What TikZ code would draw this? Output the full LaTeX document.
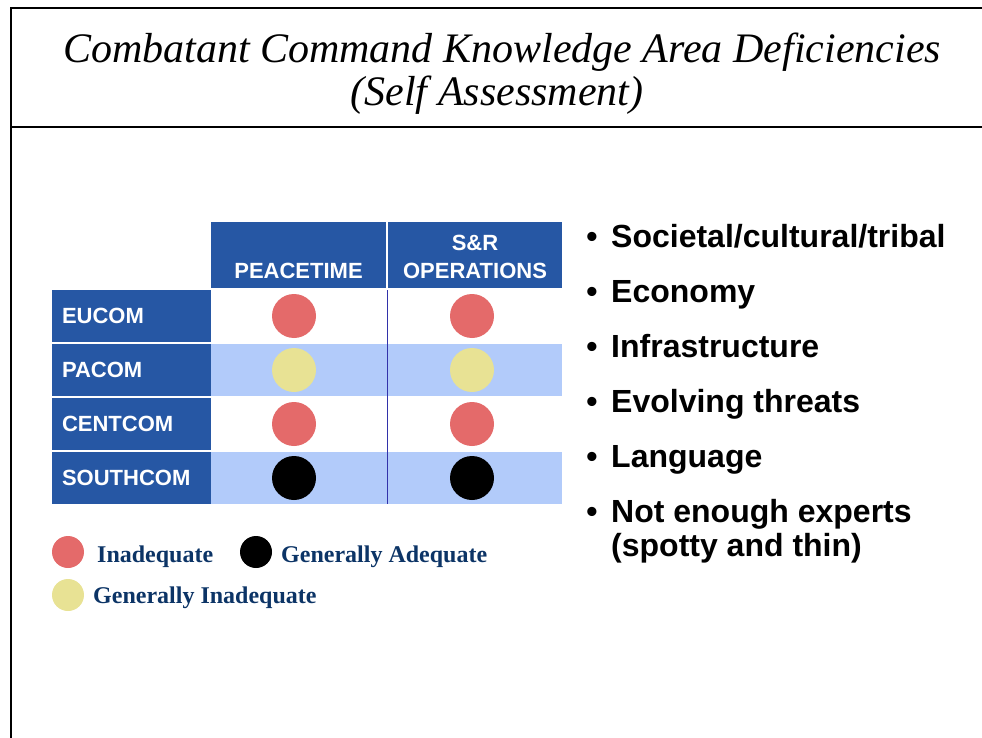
\documentclass[tikz,border=0pt]{standalone}
\usepackage{fontspec}
\setmainfont{Liberation Serif}
\setsansfont{Liberation Sans}
\usetikzlibrary{calc}

\definecolor{cmdblue}{RGB}{38,87,164}
\definecolor{rowblue}{RGB}{178,203,250}
\definecolor{dotred}{RGB}{228,106,106}
\definecolor{dotyel}{RGB}{232,226,148}
\definecolor{navy}{RGB}{12,52,102}
\definecolor{gridline}{RGB}{50,50,170}

\begin{document}
\begin{tikzpicture}[x=1pt,y=-1pt,
  hdrcell/.style={fill=cmdblue, minimum width=175, minimum height=66, inner sep=0pt, outer sep=0pt, anchor=north west},
  hdrtext/.style={text=white, font=\sffamily\bfseries\fontsize{22}{28}\selectfont, inner sep=0pt, anchor=base},
  rowcell/.style={fill=cmdblue, text=white, font=\sffamily\bfseries\fontsize{22}{28}\selectfont, minimum height=52, text width=148, inner xsep=10pt, inner ysep=0pt, outer sep=0pt, align=left, anchor=north west},
  band/.style={minimum width=351, minimum height=52, inner sep=0pt, outer sep=0pt, anchor=north west},
  dot/.style={circle, minimum size=44, inner sep=0pt},
  legdot/.style={circle, minimum size=32, inner sep=0pt},
  legtext/.style={text=navy, font=\bfseries\fontsize{24}{28}\selectfont, inner sep=0pt, anchor=base west},
  itemtext/.style={font=\sffamily\bfseries\fontsize{32}{32}\selectfont, inner sep=0pt, anchor=base west, align=left}]
\useasboundingbox (0,0) rectangle (982,738);

% frame and title
\draw[line width=2pt] (11,738) -- (11,8) -- (982,8);
\draw[line width=2pt] (11,127) -- (982,127);
\node[font=\itshape\fontsize{42}{42}\selectfont, inner sep=0pt, anchor=base] (title) at (502,63) {Combatant Command Knowledge Area Deficiencies};
\node[font=\itshape\fontsize{42}{42}\selectfont, inner sep=0pt, anchor=base] (subtitle) at (497,106) {(Self Assessment)};

% table head
\node[hdrcell] (peacehdr) at (211,222) {};
\node[hdrcell, minimum width=174] (srhdr) at (388,222) {};
\node[hdrtext] (peacetxt) at (298.5,278) {PEACETIME};
\node[hdrtext] (srtxt) at (475,250) {S\&R};
\node[hdrtext] (opstxt) at (475,278) {OPERATIONS};

% rows
\foreach \cmd/\bg/\col [count=\i] in {EUCOM/white/dotred, PACOM/rowblue/dotyel, CENTCOM/white/dotred, SOUTHCOM/rowblue/black}
{
  \node[rowcell] (lbl\i) at (52,236+54*\i) {\cmd};
  \node[band, fill=\bg] (band\i) at (211,236+54*\i) {};
  \node[dot, fill=\col] (peace\i) at (294,262+54*\i) {};
  \node[dot, fill=\col] (sr\i) at (472,262+54*\i) {};
}
\draw[gridline] (peacehdr.south east) ++(1,2) -- ($(peacehdr.south east |- band4.south)+(1,0)$);

% legend
\node[legdot, fill=dotred] (leginad) at (68,552) {};
\node[legtext] (leginadtxt) at (97,562) {Inadequate};
\node[legdot, fill=black] (legadeq) at (256,552) {};
\node[legtext] (legadeqtxt) at (281,562) {Generally Adequate};
\node[legdot, fill=dotyel] (leggen) at (68,595) {};
\node[legtext] (leggentxt) at (93,603) {Generally Inadequate};

% findings
\foreach \txt [count=\i] in {Societal/cultural/tribal, Economy, Infrastructure, Evolving threats, Language, Not enough experts}
{
  \node[itemtext, anchor=base] (bul\i) at (592,192+55*\i) {\textbullet};
  \node[itemtext] (item\i) at (611,192+55*\i) {\txt};
}
\node[itemtext] (item7) at (611,556) {(spotty and thin)};
\end{tikzpicture}
\end{document}
